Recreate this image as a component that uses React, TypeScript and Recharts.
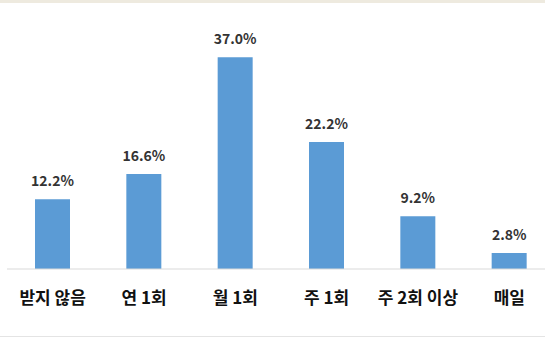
import React from 'react';
import { BarChart, Bar, XAxis, YAxis, LabelList } from 'recharts';

const categories = ['받지 않음', '연 1회', '월 1회', '주 1회', '주 2회 이상', '매일'];
const values = [12.2, 16.6, 37.0, 22.2, 9.2, 2.8];
const yDomain = [0, 40];

const data = categories.map((name, i) => ({ name, value: values[i] }));

const FONT = '"Noto Sans CJK KR", "Malgun Gothic", sans-serif';

export default function App() {
  return (
    <div
      style={{
        position: 'absolute',
        left: 0,
        top: 0,
        width: 545,
        height: 338,
        overflow: 'hidden',
        background: '#ffffff',
      }}
    >
      <div style={{ position: 'absolute', left: 0, top: 0, width: 545, height: 3, background: '#eeeadf' }} />
      <div style={{ position: 'absolute', left: 0, top: 336, width: 545, height: 1, background: '#e4e4e4' }} />
      <BarChart
        width={560}
        height={338}
        data={data}
        margin={{ top: 40, right: 5, bottom: 39, left: 7 }}
      >
        <XAxis
          dataKey="name"
          height={30}
          axisLine={{ stroke: '#d9d9d9', strokeWidth: 1 }}
          tickLine={false}
          interval={0}
          tick={{ fill: '#111111', fontSize: 17, fontWeight: 700, fontFamily: FONT }}
          tickMargin={17}
        />
        <YAxis hide domain={yDomain} />
        <Bar dataKey="value" fill="#5b9bd5" barSize={35} isAnimationActive={false}>
          <LabelList
            dataKey="value"
            position="top"
            offset={13}
            formatter={(v: number) => `${v.toFixed(1)}%`}
            style={{ fill: '#333333', fontSize: 14, fontWeight: 700, fontFamily: FONT }}
          />
        </Bar>
      </BarChart>
    </div>
  );
}
